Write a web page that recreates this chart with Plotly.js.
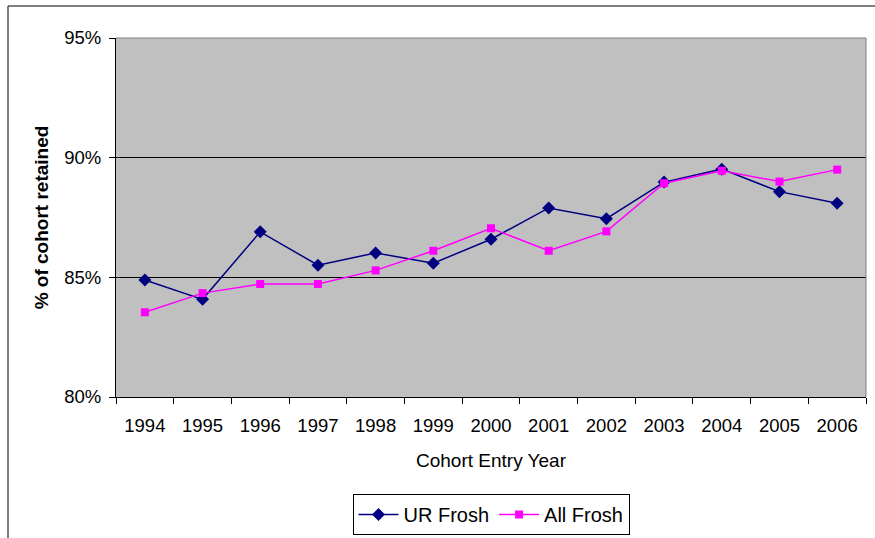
<!DOCTYPE html>
<html>
<head>
<meta charset="utf-8">
<script src="https://cdn.plot.ly/plotly-3.0.1.min.js"></script>
<style>
  html, body { margin: 0; padding: 0; background: #fff; }
  #chart { width: 875px; height: 538px; }
</style>
</head>
<body>
<div id="chart"></div>
<script>
const years = ["1994","1995","1996","1997","1998","1999","2000","2001","2002","2003","2004","2005","2006"];
const urFrosh = [84.89, 84.08, 86.90, 85.51, 86.02, 85.59, 86.59, 87.90, 87.45, 88.98, 89.52, 88.58, 88.10];
const allFrosh = [83.54, 84.34, 84.72, 84.72, 85.29, 86.11, 87.05, 86.11, 86.92, 88.93, 89.45, 89.00, 89.50];
const yTicks = [80, 85, 90, 95];

const font = "Liberation Sans, Arial, sans-serif";

const traces = [
  {
    x: years, y: urFrosh, name: "UR Frosh", type: "scatter", mode: "lines+markers",
    line: { color: "#000080", width: 1.5 },
    marker: { symbol: "diamond", size: 10, color: "#000080" }
  },
  {
    x: years, y: allFrosh, name: "All Frosh", type: "scatter", mode: "lines+markers",
    line: { color: "#FF00FF", width: 1.5 },
    marker: { symbol: "square", size: 8, color: "#FF00FF" }
  }
];

const layout = {
  width: 875, height: 538,
  margin: { l: 116, r: 9, t: 38, b: 141, autoexpand: false },
  paper_bgcolor: "#ffffff",
  plot_bgcolor: "#C0C0C0",
  font: { family: font, size: 18, color: "#000" },
  showlegend: true,
  legend: {
    orientation: "h", x: 0.5, xanchor: "center",
    yref: "container", y: 1 - 494/538, yanchor: "top",
    bordercolor: "#000", borderwidth: 1, bgcolor: "#fff",
    font: { family: font, size: 20, color: "#000" },
    itemwidth: 40, tracegroupgap: 0
  },
  xaxis: {
    type: "category",
    range: [-0.5, 12.5],
    tickson: "boundaries",
    ticks: "outside", ticklen: 6, tickcolor: "#000",
    ticklabelstandoff: 12,
    showline: true, linecolor: "#000", linewidth: 1,
    showgrid: false, zeroline: false,
    automargin: false,
    tickfont: { family: font, size: 18.5 },
    title: { text: "Cohort Entry Year", font: { family: font, size: 19 }, standoff: 18 },
    fixedrange: true
  },
  yaxis: {
    range: [80, 95],
    tickvals: yTicks,
    ticktext: yTicks.map(v => v + "%"),
    ticks: "outside", ticklen: 6, tickcolor: "#000",
    ticklabelstandoff: 4,
    showline: true, linecolor: "#000", linewidth: 1,
    showgrid: true, gridcolor: "#000", gridwidth: 1,
    zeroline: false,
    automargin: false,
    tickfont: { family: font, size: 18.5 },
    title: { text: "<b>% of cohort retained</b>", font: { family: font, size: 19 }, standoff: 10 },
    fixedrange: true
  },
  shapes: [
    { type: "line", xref: "paper", yref: "paper", x0: 0, x1: 1, y0: 1, y1: 1, line: { color: "#808080", width: 1 }, layer: "above" },
    { type: "line", xref: "paper", yref: "paper", x0: 1, x1: 1, y0: 0, y1: 1, line: { color: "#808080", width: 1 }, layer: "above" },
    { type: "rect", xref: "paper", yref: "paper",
      x0: -108/750, x1: 1.05, y0: -160/359, y1: 1 + 32/359,
      line: { color: "#000", width: 1 }, fillcolor: "rgba(0,0,0,0)", layer: "below" }
  ]
};

Plotly.newPlot("chart", traces, layout, { displayModeBar: false, staticPlot: true });
</script>
</body>
</html>
